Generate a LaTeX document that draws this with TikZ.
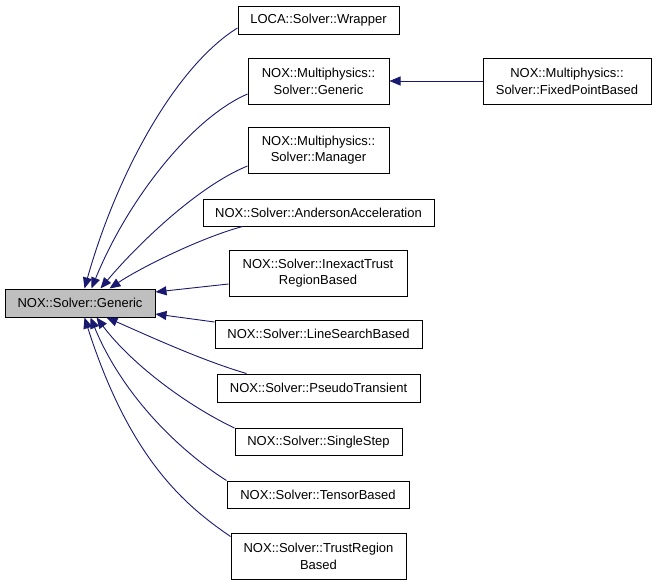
\documentclass[tikz,border=0pt]{standalone}
\usepackage{fontspec}
\setmainfont{Liberation Sans}
\usetikzlibrary{arrows.meta,calc}
\definecolor{edgeblue}{HTML}{191970}
\definecolor{rootgray}{HTML}{BFBFBF}
\begin{document}
\begin{tikzpicture}[x=1pt,y=-1pt,
  box/.style={draw=black, line width=1pt, fill=white, inner sep=0pt, align=center,
    font=\fontsize{13}{16.7}\selectfont},
  rootbox/.style={box, fill=rootgray},
  edge/.style={draw=edgeblue, line width=0.9pt, -{Triangle[length=11pt,width=9pt]}}]
\useasboundingbox (0,0) rectangle (656,584);
\node[rootbox, minimum width=150pt, minimum height=28pt] (root) at (80,303) {NOX::Solver::Generic};
\node[box, minimum width=161pt, minimum height=28pt] (wrapper) at (318.5,20) {LOCA::Solver::Wrapper};
\node[box, minimum width=141pt, minimum height=46pt] (mpgen) at (318.5,81) {NOX::Multiphysics::\\Solver::Generic};
\node[box, minimum width=168pt, minimum height=46pt] (fpb) at (567,81) {NOX::Multiphysics::\\Solver::FixedPointBased};
\node[box, minimum width=141pt, minimum height=46pt] (manager) at (318.5,150) {NOX::Multiphysics::\\Solver::Manager};
\node[box, minimum width=231pt, minimum height=27pt] (anderson) at (318.5,212.5) {NOX::Solver::AndersonAcceleration};
\node[box, minimum width=178pt, minimum height=46pt] (inexact) at (318,273) {NOX::Solver::InexactTrust\\RegionBased};
\node[box, minimum width=207pt, minimum height=28pt] (linesearch) at (318.5,334) {NOX::Solver::LineSearchBased};
\node[box, minimum width=203pt, minimum height=28pt] (pseudo) at (318.5,388) {NOX::Solver::PseudoTransient};
\node[box, minimum width=167pt, minimum height=27pt] (singlestep) at (318.5,442) {NOX::Solver::SingleStep};
\node[box, minimum width=182pt, minimum height=27pt] (tensor) at (318,494.5) {NOX::Solver::TensorBased};
\node[box, minimum width=175pt, minimum height=46pt] (trust) at (318.5,556) {NOX::Solver::TrustRegion\\Based};

\draw[edge] ([yshift=-8pt]wrapper.west) .. controls (176,66) and (117,173) .. ([xshift=80pt]root.north west);
\draw[edge] ([yshift=-13pt]mpgen.west) .. controls (192,118) and (128,199) .. ([xshift=87pt]root.north west);
\draw[edge] ([yshift=-16pt]manager.west) .. controls (198,186) and (137,245) .. ([xshift=96pt]root.north west);
\draw[edge] ([xshift=40pt]anderson.south west) .. controls (200,238) and (140,268) .. ([xshift=105pt]root.north west);
\draw[edge] ([yshift=-11pt]inexact.west) -- ([yshift=11pt]root.east);
\draw[edge] ([yshift=12pt]linesearch.west) -- ([yshift=-11pt]root.east);
\draw[edge] ([xshift=30pt]pseudo.north west) .. controls (200,360) and (140,332) .. ([xshift=102pt]root.south west);
\draw[edge] (singlestep.north west) .. controls (190,407) and (133,366) .. ([xshift=92pt]root.south west);
\draw[edge] (tensor.north west) .. controls (186,455) and (125,401) .. ([xshift=86pt]root.south west);
\draw[edge] ([yshift=-4pt]trust.north west) .. controls (186,506) and (130,460) .. ([xshift=80pt]root.south west);
\draw[edge] (fpb.west) -- (mpgen.east);
\end{tikzpicture}
\end{document}
